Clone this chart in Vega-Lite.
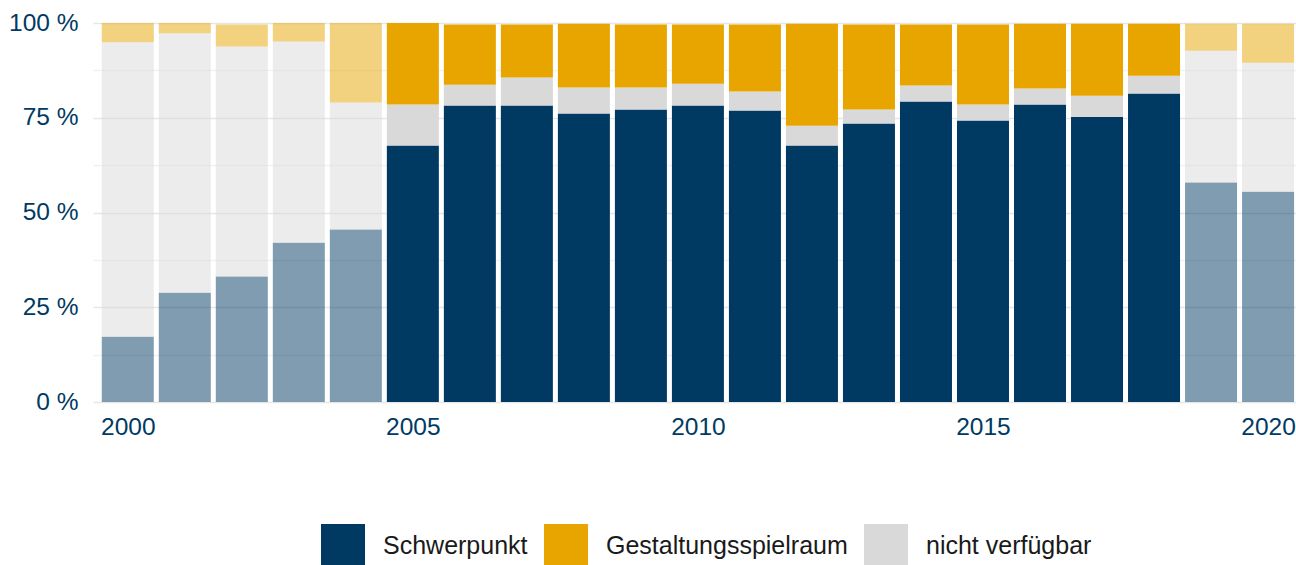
{
  "$schema": "https://vega.github.io/schema/vega-lite/v6.json",
  "autosize": {"type": "none"},
  "padding": {"left": 93, "top": 23, "right": 0, "bottom": 163},
  "width": 1203,
  "height": 379,
  "background": "white",
  "config": {
    "view": {"stroke": null},
    "font": "Liberation Sans"
  },
  "data": {
    "values": [
      {"Jahr": 2000, "Kategorie": "Schwerpunkt", "Ebene": 1, "Anteil": 17.2},
      {"Jahr": 2000, "Kategorie": "nicht verfügbar", "Ebene": 2, "Anteil": 77.7},
      {"Jahr": 2000, "Kategorie": "Gestaltungsspielraum", "Ebene": 3, "Anteil": 5.1},
      {"Jahr": 2001, "Kategorie": "Schwerpunkt", "Ebene": 1, "Anteil": 28.8},
      {"Jahr": 2001, "Kategorie": "nicht verfügbar", "Ebene": 2, "Anteil": 68.5},
      {"Jahr": 2001, "Kategorie": "Gestaltungsspielraum", "Ebene": 3, "Anteil": 2.7},
      {"Jahr": 2002, "Kategorie": "Schwerpunkt", "Ebene": 1, "Anteil": 33.1},
      {"Jahr": 2002, "Kategorie": "nicht verfügbar", "Ebene": 2, "Anteil": 60.7},
      {"Jahr": 2002, "Kategorie": "Gestaltungsspielraum", "Ebene": 3, "Anteil": 5.8},
      {"Jahr": 2003, "Kategorie": "Schwerpunkt", "Ebene": 1, "Anteil": 42.0},
      {"Jahr": 2003, "Kategorie": "nicht verfügbar", "Ebene": 2, "Anteil": 53.1},
      {"Jahr": 2003, "Kategorie": "Gestaltungsspielraum", "Ebene": 3, "Anteil": 4.9},
      {"Jahr": 2004, "Kategorie": "Schwerpunkt", "Ebene": 1, "Anteil": 45.5},
      {"Jahr": 2004, "Kategorie": "nicht verfügbar", "Ebene": 2, "Anteil": 33.5},
      {"Jahr": 2004, "Kategorie": "Gestaltungsspielraum", "Ebene": 3, "Anteil": 21.0},
      {"Jahr": 2005, "Kategorie": "Schwerpunkt", "Ebene": 1, "Anteil": 67.7},
      {"Jahr": 2005, "Kategorie": "nicht verfügbar", "Ebene": 2, "Anteil": 10.8},
      {"Jahr": 2005, "Kategorie": "Gestaltungsspielraum", "Ebene": 3, "Anteil": 21.5},
      {"Jahr": 2006, "Kategorie": "Schwerpunkt", "Ebene": 1, "Anteil": 78.2},
      {"Jahr": 2006, "Kategorie": "nicht verfügbar", "Ebene": 2, "Anteil": 5.5},
      {"Jahr": 2006, "Kategorie": "Gestaltungsspielraum", "Ebene": 3, "Anteil": 15.9},
      {"Jahr": 2007, "Kategorie": "Schwerpunkt", "Ebene": 1, "Anteil": 78.2},
      {"Jahr": 2007, "Kategorie": "nicht verfügbar", "Ebene": 2, "Anteil": 7.4},
      {"Jahr": 2007, "Kategorie": "Gestaltungsspielraum", "Ebene": 3, "Anteil": 14.0},
      {"Jahr": 2008, "Kategorie": "Schwerpunkt", "Ebene": 1, "Anteil": 76.1},
      {"Jahr": 2008, "Kategorie": "nicht verfügbar", "Ebene": 2, "Anteil": 6.9},
      {"Jahr": 2008, "Kategorie": "Gestaltungsspielraum", "Ebene": 3, "Anteil": 16.8},
      {"Jahr": 2009, "Kategorie": "Schwerpunkt", "Ebene": 1, "Anteil": 77.2},
      {"Jahr": 2009, "Kategorie": "nicht verfügbar", "Ebene": 2, "Anteil": 5.8},
      {"Jahr": 2009, "Kategorie": "Gestaltungsspielraum", "Ebene": 3, "Anteil": 16.6},
      {"Jahr": 2010, "Kategorie": "Schwerpunkt", "Ebene": 1, "Anteil": 78.2},
      {"Jahr": 2010, "Kategorie": "nicht verfügbar", "Ebene": 2, "Anteil": 5.8},
      {"Jahr": 2010, "Kategorie": "Gestaltungsspielraum", "Ebene": 3, "Anteil": 15.6},
      {"Jahr": 2011, "Kategorie": "Schwerpunkt", "Ebene": 1, "Anteil": 76.9},
      {"Jahr": 2011, "Kategorie": "nicht verfügbar", "Ebene": 2, "Anteil": 5.0},
      {"Jahr": 2011, "Kategorie": "Gestaltungsspielraum", "Ebene": 3, "Anteil": 17.7},
      {"Jahr": 2012, "Kategorie": "Schwerpunkt", "Ebene": 1, "Anteil": 67.7},
      {"Jahr": 2012, "Kategorie": "nicht verfügbar", "Ebene": 2, "Anteil": 5.2},
      {"Jahr": 2012, "Kategorie": "Gestaltungsspielraum", "Ebene": 3, "Anteil": 26.9},
      {"Jahr": 2013, "Kategorie": "Schwerpunkt", "Ebene": 1, "Anteil": 73.5},
      {"Jahr": 2013, "Kategorie": "nicht verfügbar", "Ebene": 2, "Anteil": 3.7},
      {"Jahr": 2013, "Kategorie": "Gestaltungsspielraum", "Ebene": 3, "Anteil": 22.4},
      {"Jahr": 2014, "Kategorie": "Schwerpunkt", "Ebene": 1, "Anteil": 79.3},
      {"Jahr": 2014, "Kategorie": "nicht verfügbar", "Ebene": 2, "Anteil": 4.2},
      {"Jahr": 2014, "Kategorie": "Gestaltungsspielraum", "Ebene": 3, "Anteil": 16.1},
      {"Jahr": 2015, "Kategorie": "Schwerpunkt", "Ebene": 1, "Anteil": 74.3},
      {"Jahr": 2015, "Kategorie": "nicht verfügbar", "Ebene": 2, "Anteil": 4.2},
      {"Jahr": 2015, "Kategorie": "Gestaltungsspielraum", "Ebene": 3, "Anteil": 21.1},
      {"Jahr": 2016, "Kategorie": "Schwerpunkt", "Ebene": 1, "Anteil": 78.5},
      {"Jahr": 2016, "Kategorie": "nicht verfügbar", "Ebene": 2, "Anteil": 4.2},
      {"Jahr": 2016, "Kategorie": "Gestaltungsspielraum", "Ebene": 3, "Anteil": 17.1},
      {"Jahr": 2017, "Kategorie": "Schwerpunkt", "Ebene": 1, "Anteil": 75.2},
      {"Jahr": 2017, "Kategorie": "nicht verfügbar", "Ebene": 2, "Anteil": 5.6},
      {"Jahr": 2017, "Kategorie": "Gestaltungsspielraum", "Ebene": 3, "Anteil": 19.0},
      {"Jahr": 2018, "Kategorie": "Schwerpunkt", "Ebene": 1, "Anteil": 81.4},
      {"Jahr": 2018, "Kategorie": "nicht verfügbar", "Ebene": 2, "Anteil": 4.7},
      {"Jahr": 2018, "Kategorie": "Gestaltungsspielraum", "Ebene": 3, "Anteil": 13.7},
      {"Jahr": 2019, "Kategorie": "Schwerpunkt", "Ebene": 1, "Anteil": 57.9},
      {"Jahr": 2019, "Kategorie": "nicht verfügbar", "Ebene": 2, "Anteil": 34.8},
      {"Jahr": 2019, "Kategorie": "Gestaltungsspielraum", "Ebene": 3, "Anteil": 7.1},
      {"Jahr": 2020, "Kategorie": "Schwerpunkt", "Ebene": 1, "Anteil": 55.5},
      {"Jahr": 2020, "Kategorie": "nicht verfügbar", "Ebene": 2, "Anteil": 34.0},
      {"Jahr": 2020, "Kategorie": "Gestaltungsspielraum", "Ebene": 3, "Anteil": 10.3}
    ]
  },
  "mark": {"type": "bar", "size": 52},
  "encoding": {
    "x": {
      "field": "Jahr",
      "type": "quantitative",
      "scale": {"domain": [1999.39, 2020.49], "nice": false, "zero": false, "padding": 0},
      "axis": {
        "title": null,
        "values": [2000, 2005, 2010, 2015, 2020],
        "format": "d",
        "grid": false,
        "ticks": false,
        "domain": false,
        "labelFlush": false,
        "labelFontSize": 24.5,
        "labelColor": "#003a63",
        "labelPadding": 13
      }
    },
    "y": {
      "field": "Anteil",
      "type": "quantitative",
      "stack": "zero",
      "scale": {"domain": [0, 100], "nice": false},
      "axis": {
        "title": null,
        "values": [0, 12.5, 25, 37.5, 50, 62.5, 75, 87.5, 100],
        "labelExpr": "datum.value % 25 === 0 ? datum.value + ' %' : ''",
        "ticks": false,
        "domain": false,
        "labelFontSize": 24.5,
        "labelColor": "#003a63",
        "labelPadding": 15,
        "gridColor": {"condition": {"test": "datum.value % 25 === 0", "value": "#e6e6e6"}, "value": "#f1f1f1"},
        "gridWidth": 1.6
      }
    },
    "order": {"field": "Ebene", "type": "quantitative", "sort": "ascending"},
    "color": {
      "field": "Kategorie",
      "type": "nominal",
      "scale": {
        "domain": ["Schwerpunkt", "Gestaltungsspielraum", "nicht verfügbar"],
        "range": ["#003a63", "#e8a500", "#d9d9d9"]
      },
      "legend": {
        "title": null,
        "orient": "none",
        "direction": "horizontal",
        "legendX": 228,
        "legendY": 501,
        "padding": 0,
        "symbolType": "square",
        "symbolSize": 1936,
        "symbolStrokeWidth": 0,
        "symbolOpacity": 1,
        "labelFontSize": 25,
        "labelColor": "#1a1a1a",
        "labelOffset": 18,
        "columnPadding": 16,
        "labelLimit": 400
      }
    },
    "opacity": {
      "condition": {"test": "datum.Jahr < 2005 || datum.Jahr > 2018", "value": 0.5},
      "value": 1
    }
  }
}
